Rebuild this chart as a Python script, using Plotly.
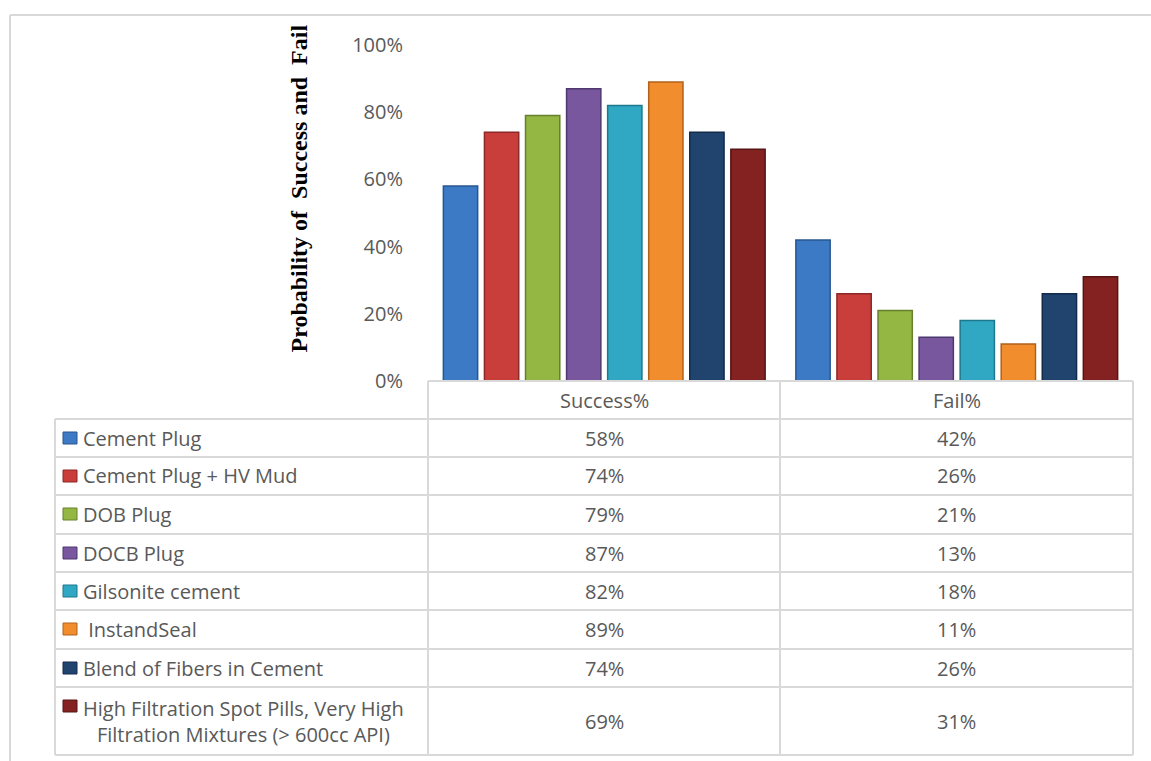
import plotly.graph_objects as go

# ---------------- data ----------------
categories = ["Success%", "Fail%"]
methods = [
    "Cement Plug",
    "Cement Plug + HV Mud",
    "DOB Plug",
    "DOCB Plug",
    "Gilsonite cement",
    " InstandSeal",
    "Blend of Fibers in Cement",
    "High Filtration Spot Pills, Very High<br>Filtration Mixtures (> 600cc API)",
]
success = [0.58, 0.74, 0.79, 0.87, 0.82, 0.89, 0.74, 0.69]
fail = [0.42, 0.26, 0.21, 0.13, 0.18, 0.11, 0.26, 0.31]
y_ticks = [0, 0.2, 0.4, 0.6, 0.8, 1.0]
y_title = "Probability of  Success and  Fail"

colors = ["#3C7AC6", "#C93D3B", "#93B742", "#78579F", "#30A8C4", "#F28D2E", "#21446F", "#842221"]
edge = ["#28578F", "#8E2826", "#667F2C", "#4F3870", "#1D788D", "#B0621C", "#122B4A", "#561413"]

W, H = 1151, 761
def X(px): return px / W
def Y(py): return 1 - py / H

plot_l, plot_r = 428, 1133
y0_px, y100_px = 381, 45

fig = go.Figure()
for i, m in enumerate(methods):
    fig.add_trace(go.Bar(
        x=categories, y=[success[i], fail[i]], name=m,
        marker=dict(color=colors[i], line=dict(color=edge[i], width=1.5)),
        showlegend=False,
    ))

gray = "#595959"
line_c = "#D9D9D9"
shapes = []
annotations = []

def hline(y, x0, x1):
    shapes.append(dict(type="line", xref="paper", yref="paper", x0=X(x0), x1=X(x1), y0=Y(y), y1=Y(y),
                       line=dict(color=line_c, width=2)))
def vline(x, y0, y1):
    shapes.append(dict(type="line", xref="paper", yref="paper", x0=X(x), x1=X(x), y0=Y(y0), y1=Y(y1),
                       line=dict(color=line_c, width=2)))

# outer frame
hline(15, 10, 1151)
vline(10, 15, 761)

# table grid
rows = [419, 457, 495, 534, 572, 610, 649, 687, 755]
col_left, col_mid = 55, 780
hline(381, plot_l, plot_r)
for r in rows:
    hline(r, col_left, plot_r)
vline(plot_l, 381, 755)
vline(col_mid, 381, 755)
vline(plot_r, 381, 755)
vline(col_left, 419, 755)

font = dict(family="Open Sans, Lato, sans-serif", size=20, color=gray)

# header labels
for c in categories:
    annotations.append(dict(x=c, y=Y(400), xref="x", yref="paper", text=c, showarrow=False,
                            font=font, xanchor="center", yanchor="middle"))

# table rows
for i, m in enumerate(methods):
    top, bot = rows[i], rows[i + 1]
    cy = (top + bot) / 2
    annotations.append(dict(x=X(81), y=Y(cy), xref="paper", yref="paper", text=m, showarrow=False,
                            font=font, xanchor="left", yanchor="middle", align="center"))
    annotations.append(dict(x=categories[0], y=Y(cy), xref="x", yref="paper", text=f"{round(success[i]*100)}%",
                            showarrow=False, font=font, xanchor="center", yanchor="middle"))
    annotations.append(dict(x=categories[1], y=Y(cy), xref="x", yref="paper", text=f"{round(fail[i]*100)}%",
                            showarrow=False, font=font, xanchor="center", yanchor="middle"))
    key_cy = top + 19
    shapes.append(dict(type="rect", xref="paper", yref="paper", x0=X(63), x1=X(77),
                       y0=Y(key_cy - 6), y1=Y(key_cy + 6),
                       fillcolor=colors[i], line=dict(color=edge[i], width=1)))

# y axis title
annotations.append(dict(x=X(298.5), y=Y(189), xref="paper", yref="paper", text=f"<b>{y_title}</b>",
                        textangle=-90, showarrow=False,
                        font=dict(family="Liberation Serif, Times New Roman, serif", size=24, color="#000000"),
                        xanchor="center", yanchor="middle"))

fig.update_layout(
    width=W, height=H,
    margin=dict(l=0, r=0, t=0, b=0, autoexpand=False),
    paper_bgcolor="white", plot_bgcolor="white",
    barmode="group", bargap=0.068, bargroupgap=0.165,
    xaxis=dict(domain=[X(plot_l), X(plot_r)], showticklabels=False, showgrid=False, zeroline=False,
               showline=False, ticks="", automargin=False),
    yaxis=dict(domain=[Y(y0_px), Y(y100_px)], range=[0, 1], tickvals=y_ticks,
               ticktext=[f"{round(v*100)}%" for v in y_ticks], tickfont=font,
               showgrid=False, zeroline=False, showline=False, automargin=False,
               ticks="outside", ticklen=20, tickcolor="rgba(0,0,0,0)"),
    shapes=shapes, annotations=annotations,
)

fig.write_html("out.html", config={"displayModeBar": False},
               post_script="document.body.style.margin='0';")
